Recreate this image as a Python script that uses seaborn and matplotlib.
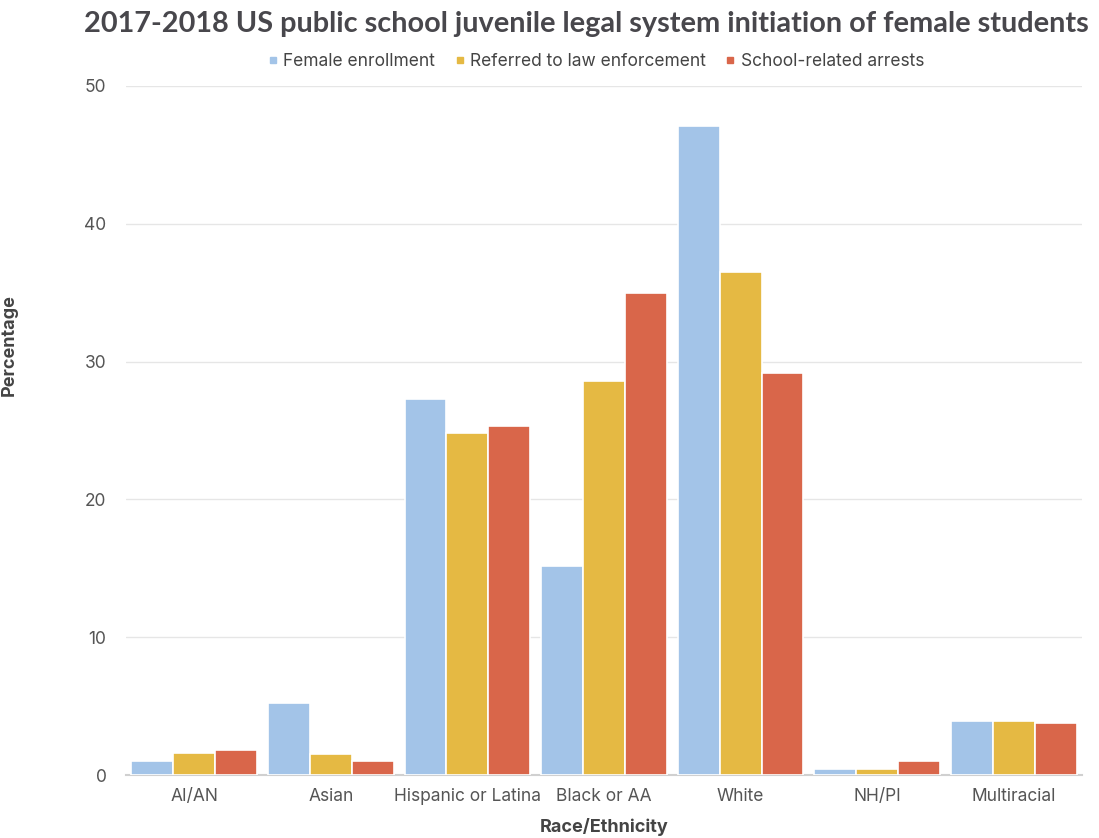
import matplotlib
matplotlib.use("Agg")
import matplotlib.pyplot as plt
import seaborn as sns
import pandas as pd
from matplotlib.lines import Line2D

categories = ["AI/AN", "Asian", "Hispanic or Latina", "Black or AA", "White", "NH/PI", "Multiracial"]
series_names = ["Female enrollment", "Referred to law enforcement", "School-related arrests"]
female_enrollment = [1.0, 5.2, 27.3, 15.2, 47.1, 0.4, 3.9]
referred = [1.6, 1.5, 24.8, 28.6, 36.5, 0.4, 3.9]
arrests = [1.8, 1.0, 25.3, 35.0, 29.2, 1.0, 3.8]
colors = ["#A3C4E8", "#E5B943", "#D9664A"]

rows = []
for name, vals in zip(series_names, [female_enrollment, referred, arrests]):
    for c, v in zip(categories, vals):
        rows.append({"Race/Ethnicity": c, "Series": name, "Percentage": v})
df = pd.DataFrame(rows)

sns.set_theme(style="white")
plt.rcParams["font.family"] = ["Inter", "DejaVu Sans"]

fig = plt.figure(figsize=(10.99, 8.38), dpi=100)
ax = fig.add_axes([126/1099, 1-775/838, (1082-126)/1099, (775-86)/838])
sns.barplot(data=df, x="Race/Ethnicity", y="Percentage", hue="Series",
            palette=colors, saturation=1, ax=ax, width=0.92, edgecolor="white", linewidth=1.2,
            legend=False, zorder=3)
ax.set_ylim(0, 50)
ax.set_yticks([0, 10, 20, 30, 40, 50])
ax.yaxis.grid(True, color="#e6e6e6", linewidth=1, zorder=0)
ax.set_axisbelow(True)
for s in ["top", "right", "left"]:
    ax.spines[s].set_visible(False)
ax.spines["bottom"].set_color("#d0d0d0")
ax.spines["bottom"].set_linewidth(1.5)
ax.tick_params(axis="both", length=0, labelsize=12.5, colors="#555555")
ax.tick_params(axis="y", pad=14)
ax.tick_params(axis="x", pad=9)
ax.set_xlabel("Race/Ethnicity", fontsize=13, fontweight="bold", color="#444444", labelpad=10)
ax.set_ylabel("Percentage", fontsize=13, fontweight="bold", color="#444444")
ax.yaxis.set_label_coords(-(126-18)/956, (775-345)/689)

fig.text(586/1099, 1-24/838, "2017-2018 US public school juvenile legal system initiation of female students",
         ha="center", va="center", fontsize=20.8, fontweight="bold", color="#48474c",
         family=["Lato", "DejaVu Sans"])

handles = [Line2D([0], [0], marker="s", linestyle="", markersize=5, markerfacecolor=c, markeredgecolor=c)
           for c in colors]
fig.legend(handles, series_names, loc="center", bbox_to_anchor=(595/1099, 1-62/838), ncol=3,
           frameon=False, fontsize=12.5, handletextpad=0.2, columnspacing=1.0,
           labelcolor="#444444", handlelength=0.8)

fig.savefig("out.png", dpi=100)
